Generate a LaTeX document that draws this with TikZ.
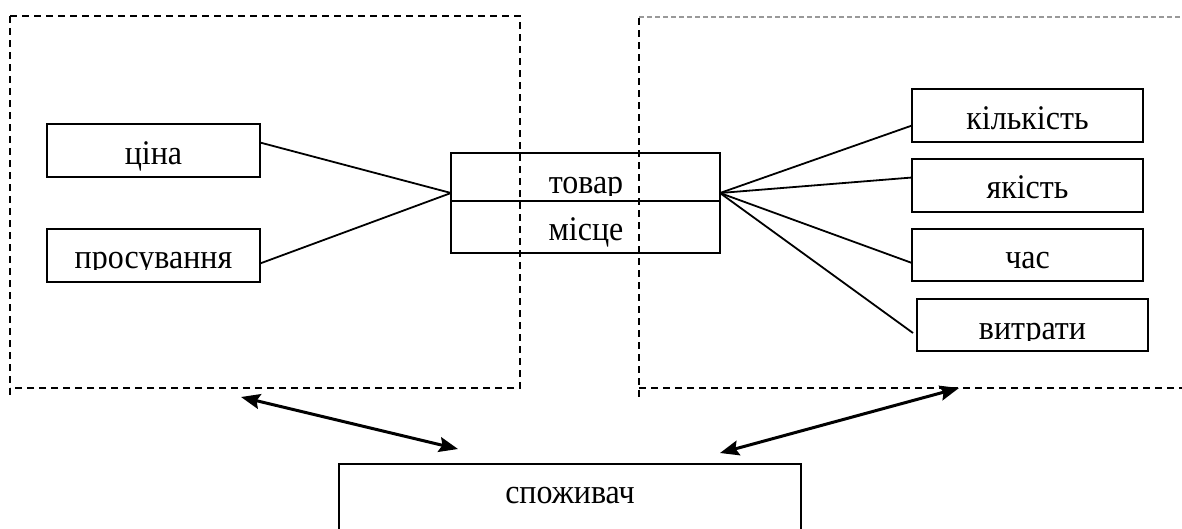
\documentclass[tikz,border=0pt]{standalone}
\usepackage{fontspec}
\usepackage{graphicx}
\setmainfont{Liberation Serif}
\usetikzlibrary{arrows.meta,calc}
% labels are set slightly taller than the font's natural shape
\newcommand{\tallword}[1]{\scalebox{1}[1.08]{#1}}
\begin{document}
\begin{tikzpicture}[x=1pt,y=-1pt,
  box/.style={draw,line width=1.8pt,rectangle,inner sep=0pt,outer sep=0pt},
  lbl/.style={anchor=base,inner sep=0pt,font=\fontsize{32}{36}\selectfont},
  frame/.style={line width=1.9pt,dash pattern=on 7pt off 5pt},
  thinframe/.style={line width=1.2pt,draw=black!40,dash pattern=on 5pt off 3pt},
  link/.style={line width=1.8pt},
  twoway/.style={line width=3pt,
    {Stealth[length=19pt,width=15pt,inset=3pt]}-{Stealth[length=19pt,width=15pt,inset=3pt]}}]
\useasboundingbox (0,0) rectangle (1182,528);

% the two dashed regions
\draw[frame] (10,16) -- (10,397);
\draw[frame] (10,16) -- (520,16) -- (520,388) -- (10,388);
\draw[frame] (639,18) -- (639,397);
\draw[frame] (639,388) -- (1182,388);
\draw[thinframe] (639,17) -- (1182,17);

% boxes
\node[box,minimum width=213pt,minimum height=53pt] (cina)   at (153.5,150.5) {};
\node[box,minimum width=213pt,minimum height=53pt] (prosuv) at (153.5,255.5) {};
\node[box,minimum width=269pt,minimum height=48pt] (tovar)  at (585.5,177) {};
\node[box,minimum width=269pt,minimum height=52pt] (mistse) at (585.5,227) {};
\node[box,minimum width=231pt,minimum height=53pt] (kilk)   at (1027.5,115.5) {};
\node[box,minimum width=231pt,minimum height=53pt] (yakist) at (1027.5,185.5) {};
\node[box,minimum width=231pt,minimum height=52pt] (chas)   at (1027.5,255) {};
\node[box,minimum width=231pt,minimum height=52pt] (vytr)   at (1032.5,325) {};
\node[box,minimum width=462pt,minimum height=80pt] (spoz)   at (570,504) {};

% labels (some are cut at the baseline by their boxes)
\node[lbl] (tcina) at (153.5,164) {\tallword{ціна}};
\begin{scope}
  \clip (47,229) rectangle (260,269);
  \node[lbl] (tprosuv) at (153.5,268) {\tallword{просування}};
\end{scope}
\begin{scope}
  \clip (451,153) rectangle (720,195);
  \node[lbl] (ttovar) at (586,193) {\tallword{товар}};
\end{scope}
\node[lbl] (tmistse) at (586,240) {\tallword{місце}};
\node[lbl] (tkilk) at (1027.5,129) {\tallword{кількість}};
\node[lbl] (tyakist) at (1027.5,198) {\tallword{якість}};
\node[lbl] (tchas) at (1027.5,268) {\tallword{час}};
\begin{scope}
  \clip (917,299) rectangle (1148,340);
  \node[lbl] (tvytr) at (1032.5,339) {\tallword{витрати}};
\end{scope}
\node[lbl] (tspoz) at (570,503) {\tallword{споживач}};

% connectors to the central box
\coordinate (jl) at ($(tovar.south west)+(0,-8)$);
\coordinate (jr) at ($(tovar.south east)+(0,-8)$);
\draw[link] ($(cina.east)+(0,-8)$) -- (jl);
\draw[link] ($(prosuv.east)+(0,8)$) -- (jl);
\draw[link] (jr) -- ($(kilk.west)+(0,10)$);
\draw[link] (jr) -- ($(yakist.west)+(0,-8)$);
\draw[link] (jr) -- ($(chas.west)+(0,8)$);
\draw[link] (jr) -- ($(vytr.west)+(-4,8)$);

% two-way arrows between the regions and the consumer
\coordinate (al) at (241,397);
\coordinate (ar) at (959,388);
\draw[twoway] (al) -- ($(spoz.north west)+(119,-15)$);
\draw[twoway] ($(spoz.north west)+(381,-11)$) -- (ar);
\end{tikzpicture}
\end{document}
